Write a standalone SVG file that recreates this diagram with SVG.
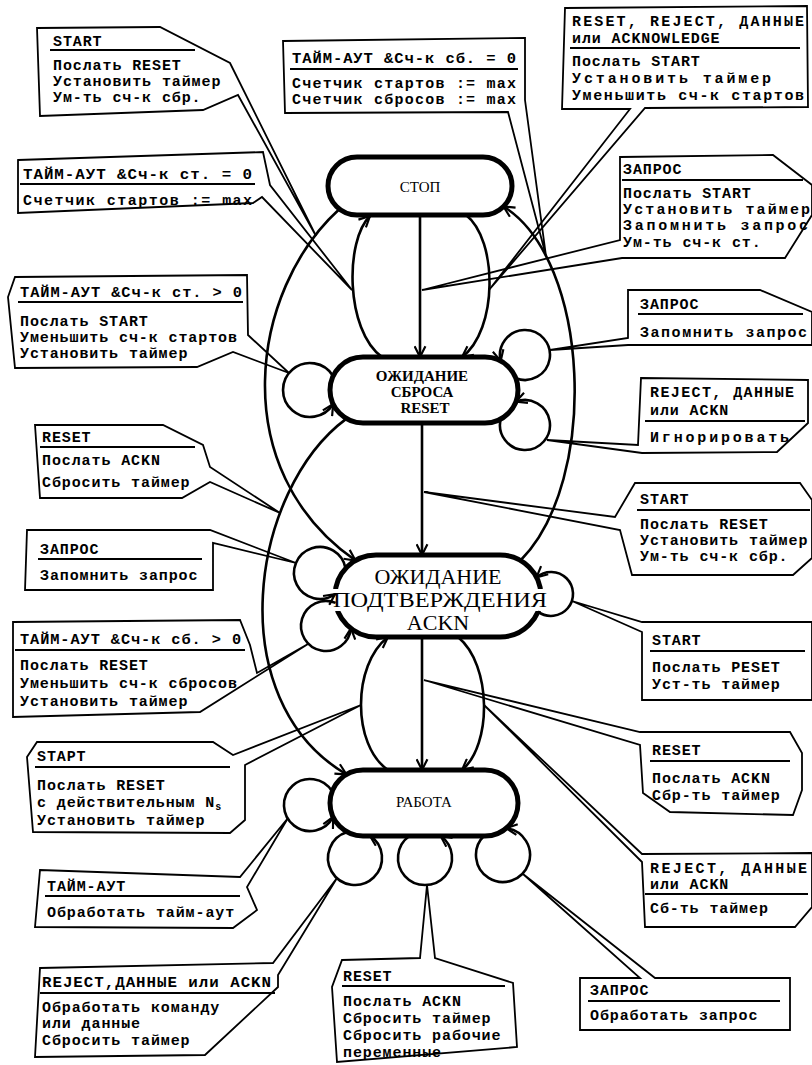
<svg xmlns="http://www.w3.org/2000/svg" width="812" height="1065" viewBox="0 0 812 1065">
<defs>
<style>
.n{fill:#fff;stroke:#000;stroke-width:5}
.c{fill:none;stroke:#000;stroke-width:2.6;marker-end:url(#ah)}
.p{fill:none;stroke:#000;stroke-width:1.8;stroke-linejoin:miter}
.t{font-family:"Liberation Mono","DejaVu Sans Mono",monospace;font-size:15px;letter-spacing:0.9px;font-weight:bold;fill:#000}
.u{stroke:#000;stroke-width:2}
.ns{font-family:"Liberation Serif","DejaVu Serif",serif;text-anchor:middle;fill:#000}
</style>
<marker id="ah" viewBox="0 0 12 12" refX="11" refY="6" markerWidth="13" markerHeight="13" markerUnits="userSpaceOnUse" orient="auto">
<path d="M1 1 L11 6 L1 11" fill="none" stroke="#000" stroke-width="2"/>
</marker>
</defs>
<rect width="812" height="1065" fill="#fff"/>

<g id="nodes">
<g id="n-stop"><rect class="n" x="328" y="157" width="184" height="58" rx="29"/><text class="ns" x="420" y="192" font-size="15">СТОП</text></g>
<g id="n-wait-reset"><rect class="n" x="330" y="357" width="188" height="66" rx="33"/>
<text class="ns" x="422" y="381" font-size="15" font-weight="bold">ОЖИДАНИЕ</text>
<text class="ns" x="422" y="397" font-size="15" font-weight="bold">СБРОСА</text>
<text class="ns" x="425" y="413" font-size="15" font-weight="bold">RESET</text></g>
<g id="n-wait-ackn"><rect class="n" x="335" y="555" width="206" height="82" rx="41"/>
<rect x="331" y="589" width="219" height="22" fill="#fff"/>
<text class="ns" x="438" y="584" font-size="22">ОЖИДАНИЕ</text>
<text class="ns" x="440" y="607" font-size="22" textLength="214" lengthAdjust="spacingAndGlyphs">ПОДТВЕРЖДЕНИЯ</text>
<text class="ns" x="438" y="630" font-size="22">ACKN</text></g>
<g id="n-work"><rect class="n" x="330" y="770" width="188" height="66" rx="33"/><text class="ns" x="424" y="807" font-size="15">РАБОТА</text></g>
</g>

<g id="connectors">
<path class="c" d="M420 215 L420 357"/>
<path class="c" d="M382 357 C345 330 345 240 370 216"/>
<path class="c" d="M466 215 C498 240 498 330 462 357"/>
<path class="c" d="M422 423 L422 555"/>
<path class="c" d="M422 637 L422 770"/>
<path class="c" d="M388 770 C352 745 352 665 388 637"/>
<path class="c" d="M458 637 C492 665 492 745 462 770"/>
<path class="c" d="M339.5 209 C250 290 225 470 355.5 560.5"/>
<path class="c" d="M346.5 418.6 C250 490 220 700 346.5 774.4"/>
<path class="c" d="M520.5 560.5 C600 480 590 260 503.5 206.5"/>
<path class="c" d="M333.1 376 A27 27 0 1 0 333.1 404"/>
<path class="c" d="M515.9 378.3 A25 25 0 1 0 500.7 361"/>
<path class="c" d="M500.7 419 A25 25 0 1 0 515.9 401.7"/>
<path class="c" d="M345.6 568.5 A26 26 0 1 0 335 594.2"/>
<path class="c" d="M335.6 602.9 A25 25 0 1 0 350.9 628.4"/>
<path class="c" d="M537.9 611.6 A22 22 0 1 0 536.5 577.4"/>
<path class="c" d="M332.1 791.4 A26 26 0 1 0 333.1 816.9"/>
<path class="c" d="M347.4 832.1 A27 27 0 1 0 369.6 835.3"/>
<path class="c" d="M409.4 836 A27 27 0 1 0 440.6 836"/>
<path class="c" d="M483.8 836 A27 27 0 1 0 506.3 828.2"/>
</g>

<g id="callouts">
<g id="cb-start-tl"><path class="p" d="M37 28 L160 27 L230 63 L316 236 L238 95 L203 110 L40 116 Z"/>
<text class="t" x="53" y="46">START</text><line class="u" x1="50" y1="50" x2="195" y2="50"/>
<text class="t" x="53" y="70">Послать RESET</text>
<text class="t" x="53" y="86">Установить таймер</text>
<text class="t" x="53" y="102">Ум-ть сч-к сбр.</text></g>

<g id="cb-timeout-sb0"><path class="p" d="M283 41 L525 38 L525 100 L546 256 L508 112 L285 113 Z"/>
<text class="t" x="292" y="63" textLength="225" lengthAdjust="spacingAndGlyphs">ТАЙМ-АУТ &amp;Сч-к сб. = 0</text><line class="u" x1="290" y1="69" x2="518" y2="69"/>
<text class="t" x="292" y="88" textLength="225">Счетчик стартов := max</text>
<text class="t" x="292" y="104" textLength="225">Счетчик сбросов := max</text></g>

<g id="cb-reset-reject-tr"><path class="p" d="M565 8 L807 6 L808 107 L645 108 L489 290 L630 109 L562 109 Z"/>
<text class="t" x="572" y="26" textLength="233">RESET, REJECT, ДАННЫЕ</text>
<text class="t" x="572" y="43">или ACKNOWLEDGE</text><line class="u" x1="570" y1="48" x2="800" y2="48"/>
<text class="t" x="572" y="66">Послать START</text>
<text class="t" x="572" y="83" textLength="200">Установить таймер</text>
<text class="t" x="572" y="100" textLength="233">Уменьшить сч-к стартов</text></g>

<g id="cb-zapros-tr"><path class="p" d="M620 157 L773 155 L812 185 L812 215 L785 258 L622 258 L422 290 L620 240 Z"/>
<text class="t" x="623" y="174">ЗАПРОС</text><line class="u" x1="622" y1="180" x2="803" y2="180"/>
<text class="t" x="623" y="198">Послать START</text>
<text class="t" x="623" y="214" textLength="188">Установить таймер</text>
<text class="t" x="623" y="230" textLength="186">Запомнить запрос</text>
<text class="t" x="623" y="247">Ум-ть сч-к ст.</text></g>

<g id="cb-timeout-st0"><path class="p" d="M18 160 L263 152 L270 185 L352 290 L262 197 L253 203 L18 213 Z"/>
<text class="t" x="23" y="179" textLength="230" lengthAdjust="spacingAndGlyphs">ТАЙМ-АУТ &amp;Сч-к ст. = 0</text><line class="u" x1="20" y1="184" x2="255" y2="184"/>
<text class="t" x="23" y="205" textLength="230">Счетчик стартов := max</text></g>

<g id="cb-timeout-stgt0"><path class="p" d="M15 277 L247 275 L248 335 L289 373 L233 352 L197 367 L15 368 L8 297 Z"/>
<text class="t" x="20" y="297" textLength="223" lengthAdjust="spacingAndGlyphs">ТАЙМ-АУТ &amp;Сч-к ст. &gt; 0</text><line class="u" x1="18" y1="302" x2="243" y2="302"/>
<text class="t" x="20" y="326">Послать START</text>
<text class="t" x="20" y="342">Уменьшить сч-к стартов</text>
<text class="t" x="20" y="358">Установить таймер</text></g>

<g id="cb-reset-l"><path class="p" d="M35 425 L163 425 L203 445 L210 467 L280 513 L210 482 L182 498 L40 498 Z"/>
<text class="t" x="42" y="442">RESET</text><line class="u" x1="40" y1="447" x2="195" y2="447"/>
<text class="t" x="42" y="465">Послать ACKN</text>
<text class="t" x="42" y="487">Сбросить таймер</text></g>

<g id="cb-zapros-l"><path class="p" d="M27 530 L210 530 L296 563 L213 543 L213 590 L25 590 Z"/>
<text class="t" x="40" y="554">ЗАПРОС</text><line class="u" x1="38" y1="559" x2="202" y2="559"/>
<text class="t" x="40" y="580">Запомнить запрос</text></g>

<g id="cb-timeout-sbgt0"><path class="p" d="M13 622 L240 620 L250 645 L257 673 L308 644 L200 712 L13 717 Z"/>
<text class="t" x="20" y="644" textLength="222" lengthAdjust="spacingAndGlyphs">ТАЙМ-АУТ &amp;Сч-к сб. &gt; 0</text><line class="u" x1="15" y1="650" x2="245" y2="650"/>
<text class="t" x="20" y="670">Послать RESET</text>
<text class="t" x="20" y="688">Уменьшить сч-к сбросов</text>
<text class="t" x="20" y="706">Установить таймер</text></g>

<g id="cb-stapt"><path class="p" d="M37 742 L213 742 L233 755 L361 705 L245 765 L245 820 L230 833 L33 832 L27 757 Z"/>
<text class="t" x="37" y="761">STAPT</text><line class="u" x1="35" y1="767" x2="230" y2="767"/>
<text class="t" x="37" y="790">Послать RESET</text>
<text class="t" x="37" y="807">с действительным N<tspan font-size="10" dy="3">s</tspan></text>
<text class="t" x="37" y="825">Установить таймер</text></g>

<g id="cb-timeout"><path class="p" d="M40 870 L240 877 L288 818 L247 887 L257 910 L233 928 L35 927 Z"/>
<text class="t" x="47" y="891">ТАЙМ-АУТ</text><line class="u" x1="45" y1="896" x2="240" y2="896"/>
<text class="t" x="47" y="917">Обработать тайм-аут</text></g>

<g id="cb-reject-bl"><path class="p" d="M40 968 L273 963 L337 878 L278 975 L278 987 L205 1055 L35 1057 Z"/>
<text class="t" x="42" y="987" textLength="230" lengthAdjust="spacingAndGlyphs">REJECT,ДАННЫЕ или ACKN</text><line class="u" x1="40" y1="993" x2="275" y2="993"/>
<text class="t" x="42" y="1012">Обработать команду</text>
<text class="t" x="42" y="1028">или данные</text>
<text class="t" x="42" y="1045">Сбросить таймер</text></g>

<g id="cb-reset-b"><path class="p" d="M342 960 L420 958 L427 885 L435 958 L513 983 L517 1047 L337 1062 L332 987 Z"/>
<text class="t" x="343" y="981">RESET</text><line class="u" x1="342" y1="986" x2="505" y2="986"/>
<text class="t" x="343" y="1006">Послать ACKN</text>
<text class="t" x="343" y="1023">Сбросить таймер</text>
<text class="t" x="343" y="1040">Сбросить рабочие</text>
<text class="t" x="343" y="1057">переменные</text></g>

<g id="cb-zapros-br"><path class="p" d="M580 978 L640 978 L523 874 L655 978 L790 978 L790 1030 L580 1030 Z"/>
<text class="t" x="590" y="995">ЗАПРОС</text><line class="u" x1="588" y1="1001" x2="780" y2="1001"/>
<text class="t" x="590" y="1020">Обработать запрос</text></g>

<g id="cb-zapros-r"><path class="p" d="M628 290 L760 290 L812 312 L812 345 L628 345 L550 350 L628 338 Z"/>
<text class="t" x="640" y="309">ЗАПРОС</text><line class="u" x1="638" y1="314" x2="803" y2="314"/>
<text class="t" x="640" y="337" textLength="168">Запомнить запрос</text></g>

<g id="cb-reject-r1"><path class="p" d="M641 378 L808 380 L808 423 L777 452 L642 453 L547 440 L638 445 Z"/>
<text class="t" x="650" y="397" textLength="145">REJECT, ДАННЫЕ</text>
<text class="t" x="650" y="415">или ACKN</text><line class="u" x1="645" y1="421" x2="805" y2="421"/>
<text class="t" x="650" y="442" textLength="140">Игнорировать</text></g>

<g id="cb-start-r1"><path class="p" d="M635 483 L800 483 L812 500 L812 558 L793 575 L632 575 L620 530 L424 492 L615 517 Z"/>
<text class="t" x="640" y="504">START</text><line class="u" x1="637" y1="510" x2="810" y2="510"/>
<text class="t" x="640" y="529">Послать RESET</text>
<text class="t" x="640" y="545">Установить таймер</text>
<text class="t" x="640" y="561">Ум-ть сч-к сбр.</text></g>

<g id="cb-start-r2"><path class="p" d="M642 622 L812 622 L812 700 L642 700 L642 632 L572 601 Z"/>
<text class="t" x="652" y="645">START</text><line class="u" x1="650" y1="651" x2="805" y2="651"/>
<text class="t" x="652" y="672">Послать PESET</text>
<text class="t" x="652" y="689">Уст-ть таймер</text></g>

<g id="cb-reset-r"><path class="p" d="M640 732 L790 732 L802 753 L802 790 L793 815 L670 812 L643 793 L640 745 L424 680 Z"/>
<text class="t" x="652" y="755">RESET</text><line class="u" x1="650" y1="761" x2="790" y2="761"/>
<text class="t" x="652" y="783">Послать ACKN</text>
<text class="t" x="652" y="800">Сбр-ть таймер</text></g>

<g id="cb-reject-r2"><path class="p" d="M642 854 L812 853 L812 907 L795 927 L645 927 L642 862 L484 705 Z"/>
<text class="t" x="650" y="873" textLength="158">REJECT, ДАННЫЕ</text>
<text class="t" x="650" y="889">или ACKN</text><line class="u" x1="645" y1="894" x2="808" y2="894"/>
<text class="t" x="650" y="913">Сб-ть таймер</text></g>
</g>
</svg>
